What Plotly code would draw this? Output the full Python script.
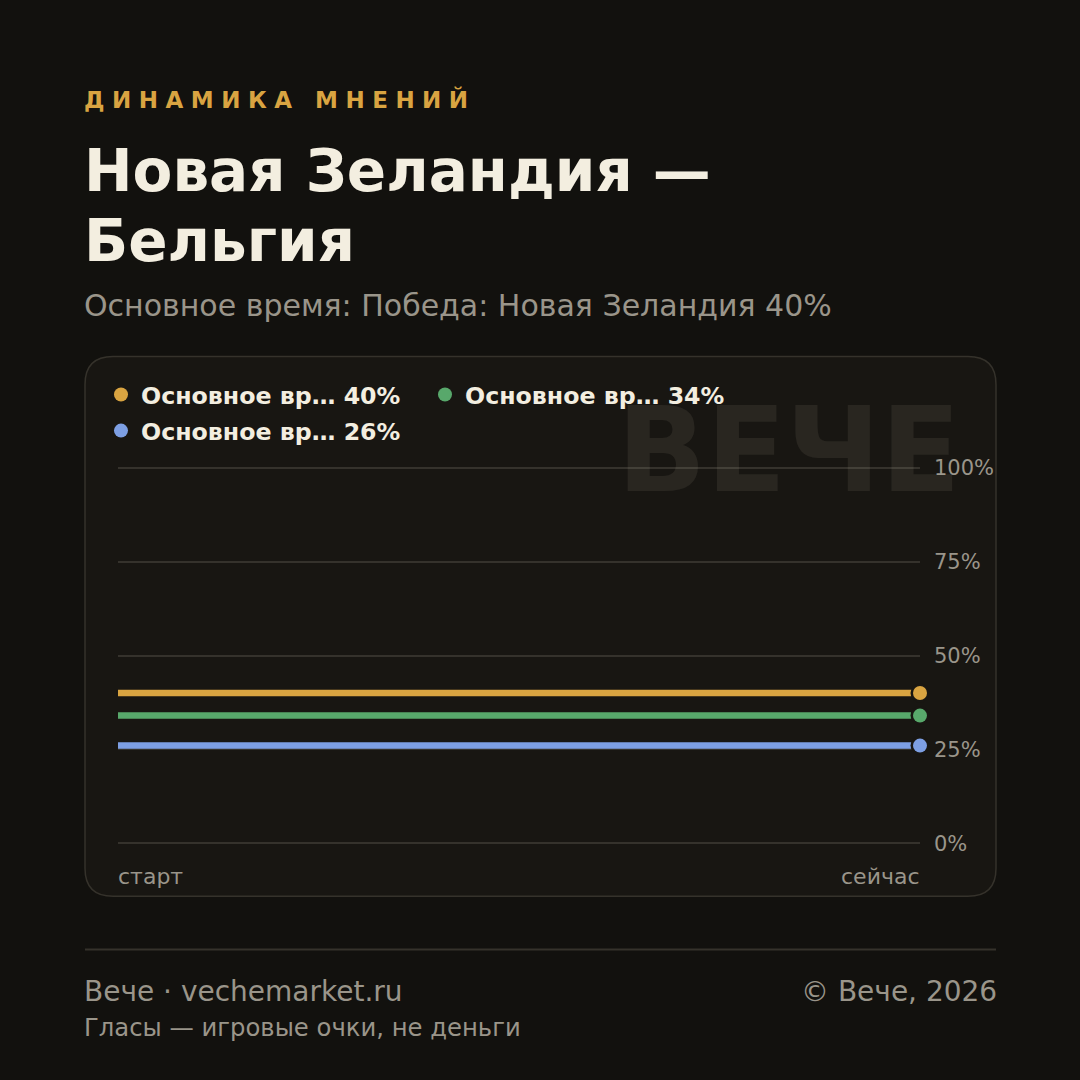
import plotly.graph_objects as go

# ---------------- data ----------------
time_points = ["старт", "сейчас"]
outcome_labels = [
    "Основное время: Победа: Новая Зеландия",
    "Основное время: Ничья",
    "Основное время: Победа: Бельгия",
]
values_start = [40, 34, 26]
values_now = [40, 34, 26]
y_ticks = [0, 25, 50, 75, 100]
y_tick_labels = ["0%", "25%", "50%", "75%", "100%"]

kicker = "ДИНАМИКА МНЕНИЙ"
title_lines = ["Новая Зеландия —", "Бельгия"]
subtitle = "Основное время: Победа: Новая Зеландия 40%"
watermark = "ВЕЧЕ"
footer_left = "Вече · vechemarket.ru"
footer_right = "© Вече, 2026"
footer_note = "Гласы — игровые очки, не деньги"

# ---------------- style ----------------
BG = "#12110e"
CARD = "#181612"
CARD_BORDER = "#35322b"
GRID = "#35322c"
MUTED = "#9a958a"
TEXT = "#f3eee0"
GOLD = "#d9a441"
colors = ["#d9a441", "#58a86b", "#7d9fe3"]
FONT = "DejaVu Sans"

W = H = 1080
PAD = 1.0  # y-range padding (units) so edge gridlines are drawn
Y0PX, Y100PX = 843, 468
UNIT = (Y0PX - Y100PX) / 100.0
L, R = 118, 920
T, B = Y100PX - PAD * UNIT, Y0PX + PAD * UNIT
PW, PH = R - L, B - T


def px(x):
    return (x - L) / PW


def py(y):
    return (B - y) / PH


def short(label, n=11):
    return label[:n] + "…" if len(label) > n else label


fig = go.Figure()

for i, lab in enumerate(outcome_labels):
    fig.add_trace(go.Scatter(
        x=time_points, y=[values_start[i], values_now[i]],
        mode="lines", line=dict(color=colors[i], width=6.5),
        showlegend=False, hoverinfo="skip", cliponaxis=False,
    ))

# dark halo behind end markers
fig.add_trace(go.Scatter(
    x=[time_points[-1]] * len(values_now), y=values_now, mode="markers",
    marker=dict(color=CARD, size=19), showlegend=False, hoverinfo="skip",
    cliponaxis=False,
))

for i, lab in enumerate(outcome_labels):
    fig.add_trace(go.Scatter(
        x=[time_points[-1]], y=[values_now[i]],
        mode="markers",
        marker=dict(color=colors[i], size=14),
        name=f"{short(lab)} {values_now[i]}%",
        legend="legend" if i < 2 else "legend2",
        cliponaxis=False, hoverinfo="skip",
    ))

# rounded card
x0, x1, y0, y1, r = 85, 996, 357, 896, 28
rx, ry = r / PW, r / PH
X0, X1, Y0, Y1 = px(x0), px(x1), py(y1), py(y0)
path = (f"M {X0+rx},{Y0} L {X1-rx},{Y0} Q {X1},{Y0} {X1},{Y0+ry} "
        f"L {X1},{Y1-ry} Q {X1},{Y1} {X1-rx},{Y1} L {X0+rx},{Y1} "
        f"Q {X0},{Y1} {X0},{Y1-ry} L {X0},{Y0+ry} Q {X0},{Y0} {X0+rx},{Y0} Z")
shapes = [
    dict(type="path", path=path, xref="paper", yref="paper",
         fillcolor=CARD, line=dict(color=CARD_BORDER, width=1.5), layer="below"),
    dict(type="line", xref="paper", yref="paper", x0=px(85), x1=px(996),
         y0=py(949), y1=py(949), line=dict(color=CARD_BORDER, width=2), layer="below"),
]

ann = []


def add_text(text, x, y, size, color, xanchor="left", bold=False, yanchor="middle"):
    dx = -3 if xanchor == "left" else 3
    ann.append(dict(text=text, x=px(x + dx), y=py(y), xref="paper", yref="paper",
                    xanchor=xanchor, yanchor=yanchor, showarrow=False,
                    font=dict(family=FONT, size=size, color=color,
                              weight="bold" if bold else "normal")))


spaced = f'<span style="letter-spacing:7.5px">{kicker}</span>'
add_text(spaced, 85, 100, 23, GOLD, bold=True)
add_text(title_lines[0], 85, 172, 58, TEXT, bold=True)
add_text(title_lines[1], 85, 242, 58, TEXT, bold=True)
add_text(subtitle, 85, 306, 30, MUTED)
add_text(footer_left, 85, 991, 28, MUTED)
add_text(footer_right, 996, 991, 28, MUTED, xanchor="right")
add_text(footer_note, 85, 1027, 24.3, MUTED)
add_text(watermark, 960, 451, 117, "rgba(240,230,210,0.08)", xanchor="right", bold=True)

# x labels from data categories
for cat, anchor, dx in [(time_points[0], "left", -2), (time_points[-1], "right", 2)]:
    ann.append(dict(text=cat, x=cat, y=py(876), xref="x", yref="paper",
                    xanchor=anchor, xshift=dx, yanchor="middle", showarrow=False,
                    font=dict(family=FONT, size=22, color=MUTED)))

legend_style = dict(orientation="h", xanchor="left", yanchor="middle",
                    bgcolor="rgba(0,0,0,0)", entrywidth=279, entrywidthmode="pixels",
                    font=dict(family=FONT, size=23.7, color=TEXT, weight="bold"),
                    itemclick=False, itemdoubleclick=False)

fig.update_layout(
    width=W, height=H,
    margin=dict(l=L, r=W - R, t=T, b=H - B, pad=0),
    paper_bgcolor=BG, plot_bgcolor="rgba(0,0,0,0)",
    font=dict(family=FONT, color=MUTED),
    shapes=shapes, annotations=ann,
    showlegend=True,
    legend=dict(x=px(101), y=py(395), **legend_style),
    legend2=dict(x=px(101), y=py(431), **legend_style),
    xaxis=dict(type="category", range=[0, 1], showgrid=False, zeroline=False,
               showticklabels=False, showline=False, fixedrange=True),
    yaxis=dict(range=[-PAD, 100 + PAD], side="right", tickvals=y_ticks, ticktext=y_tick_labels,
               showgrid=True, gridcolor=GRID, gridwidth=1.5, zeroline=False,
               showline=False, ticks="", ticklabelstandoff=13,
               tickfont=dict(family=FONT, size=21, color=MUTED), fixedrange=True),
)

fig.write_html("out.html", config={"displayModeBar": False})
